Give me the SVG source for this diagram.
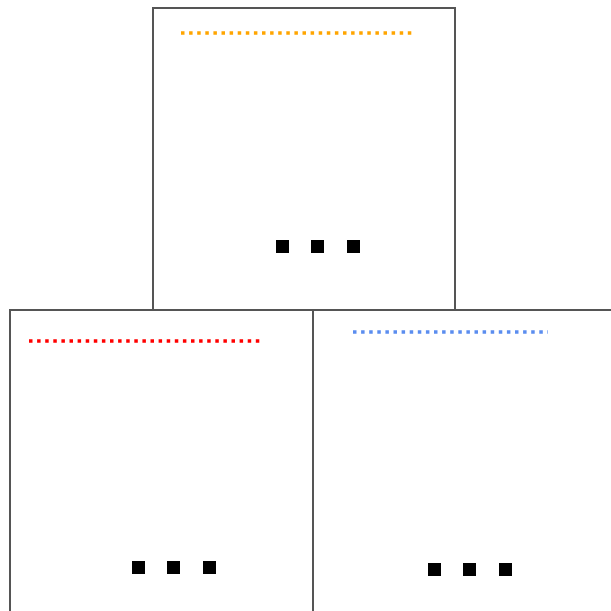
<svg xmlns="http://www.w3.org/2000/svg" width="611" height="611" viewBox="0 0 611 611">
<style>
.box{fill:#fff;stroke:#555;stroke-width:2}
.dot{fill:none;stroke-width:3.5;stroke-dasharray:3.5 4.6}
.sq{fill:#000}
</style>
<rect width="611" height="611" fill="#fff"/>
<g id="node-top">
<rect class="box" x="153" y="8" width="302" height="302"/>
<line class="dot" x1="181" y1="33" x2="414" y2="33" stroke="#FFA500"/>
<rect class="sq" x="276" y="240" width="13" height="13"/>
<rect class="sq" x="311" y="240" width="13" height="13"/>
<rect class="sq" x="347" y="240" width="13" height="13"/>
</g>
<g id="node-left">
<rect class="box" x="10" y="310" width="303" height="303"/>
<line class="dot" x1="29" y1="341" x2="262" y2="341" stroke="#FF0000"/>
<rect class="sq" x="132" y="561" width="13" height="13"/>
<rect class="sq" x="167" y="561" width="13" height="13"/>
<rect class="sq" x="203" y="561" width="13" height="13"/>
</g>
<g id="node-right">
<rect class="box" x="313" y="310" width="303" height="303"/>
<line class="dot" x1="353" y1="332" x2="548" y2="332" stroke="#5B8DEF"/>
<rect class="sq" x="428" y="563" width="13" height="13"/>
<rect class="sq" x="463" y="563" width="13" height="13"/>
<rect class="sq" x="499" y="563" width="13" height="13"/>
</g>
<g id="connectors"></g>
</svg>
